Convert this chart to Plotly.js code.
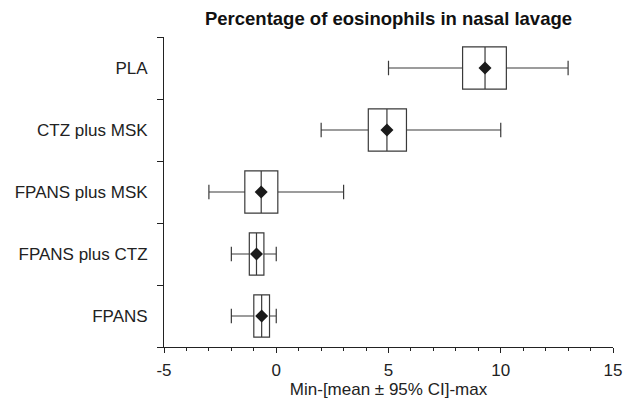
<!DOCTYPE html>
<html>
<head>
<meta charset="utf-8">
<script src="https://cdn.plot.ly/plotly-3.0.1.min.js"></script>
<style>
  html, body { margin: 0; padding: 0; background: #fff; }
  #chart { width: 625px; height: 401px; }
</style>
</head>
<body>
<div id="chart"></div>
<script>
// Categories (bottom to top)
const categories = ["FPANS", "FPANS plus CTZ", "FPANS plus MSK", "CTZ plus MSK", "PLA"];
// Min-[mean ± 95% CI]-max
const minValues   = [-2.0, -2.0, -3.0, 2.0, 5.0];
const ciLower     = [-1.0, -1.2, -1.4, 4.1, 8.3];
const meanValues  = [-0.65, -0.88, -0.67, 4.93, 9.3];
const ciUpper     = [-0.3, -0.55, 0.07, 5.8, 10.25];
const maxValues   = [0.0, 0.0, 3.0, 10.0, 13.0];

const xTickVals   = [-5, 0, 5, 10, 15];
const xTickLabels = ["-5", "0", "5", "10", "15"];

const FONT = "'Liberation Sans', Arial, sans-serif";

const boxTrace = {
  type: "box",
  orientation: "h",
  y: categories,
  q1: ciLower,
  median: meanValues,
  q3: ciUpper,
  lowerfence: minValues,
  upperfence: maxValues,
  line: { color: "#3a3a3a", width: 1.2 },
  fillcolor: "rgba(255,255,255,0)",
  whiskerwidth: 0.34,
  hoverinfo: "skip",
  showlegend: false
};

const meanTrace = {
  type: "scatter",
  mode: "markers",
  x: meanValues,
  y: categories,
  marker: { symbol: "diamond", size: 10, color: "#1a1a1a" },
  hoverinfo: "skip",
  showlegend: false
};

const layout = {
  width: 625,
  height: 401,
  margin: { l: 164, r: 12, t: 37, b: 54 },
  paper_bgcolor: "#ffffff",
  plot_bgcolor: "#ffffff",
  font: { family: FONT, size: 17, color: "#222222" },
  title: {
    text: "<b>Percentage of eosinophils in nasal lavage</b>",
    font: { family: FONT, size: 18.5, color: "#111111" },
    xref: "paper", x: 0.5, xanchor: "center",
    yref: "container", y: 0.953, yanchor: "middle"
  },
  boxgap: 0.32,
  boxgroupgap: 0,
  xaxis: {
    range: [-5, 15],
    tickvals: xTickVals,
    ticktext: xTickLabels,
    ticks: "outside",
    ticklen: 5,
    tickwidth: 1,
    tickcolor: "#222",
    showline: true,
    linecolor: "#222",
    linewidth: 1,
    showgrid: false,
    zeroline: false,
    minor: { dtick: 1, ticks: "outside", ticklen: 3, tickcolor: "#222", showgrid: false },
    tickfont: { family: FONT, size: 17 },
    ticklabelstandoff: 3,
    title: { text: "Min-[mean ± 95% CI]-max", font: { family: FONT, size: 17 }, standoff: 3 }
  },
  yaxis: {
    type: "category",
    categoryorder: "array",
    categoryarray: categories,
    range: [-0.5, 4.5],
    tickson: "boundaries",
    ticks: "outside",
    ticklen: 6,
    tickcolor: "#222",
    showline: true,
    linecolor: "#222",
    linewidth: 1,
    showgrid: false,
    zeroline: false,
    ticklabelstandoff: 12,
    tickfont: { family: FONT, size: 17 }
  }
};

Plotly.newPlot("chart", [boxTrace, meanTrace], layout, { displayModeBar: false, staticPlot: true });
</script>
</body>
</html>
